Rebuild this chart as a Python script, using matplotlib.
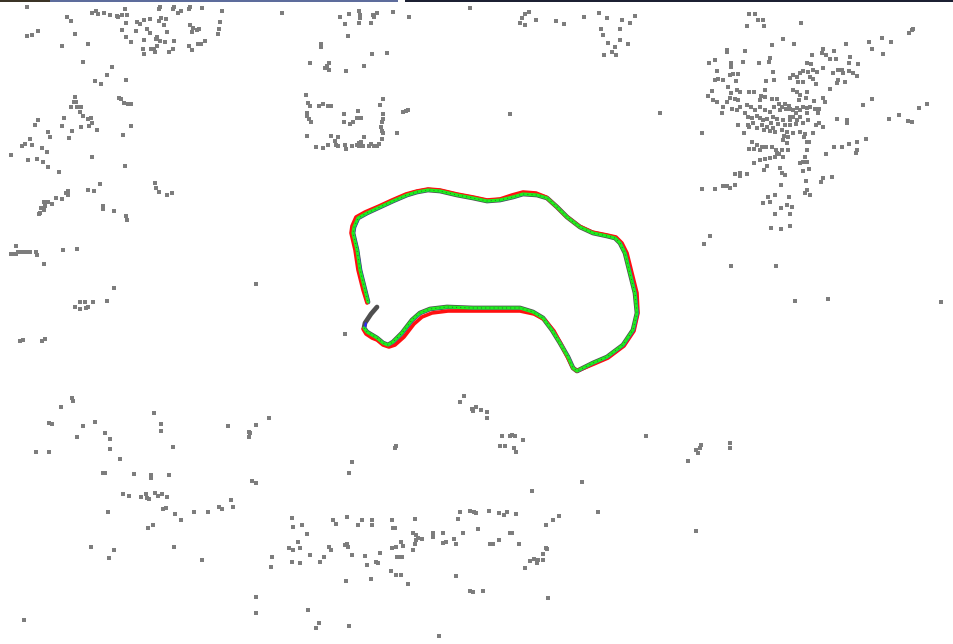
import numpy as np
import matplotlib
matplotlib.use("Agg")
import matplotlib.pyplot as plt
from matplotlib.patches import Rectangle

# Map landmarks (pixel-frame map coordinates, y grows downward)
cloud_nw = [
    (27, 7), (67, 17), (71, 21), (92, 13), (96, 11), (98, 14), (104, 13), (110, 15), (117, 16), (118, 17),
    (122, 15), (127, 15), (125, 9), (126, 23), (122, 30), (126, 37), (131, 42), (137, 22), (140, 24), (144, 20),
    (150, 19), (147, 29), (136, 31), (150, 33), (159, 9), (160, 7), (173, 9), (174, 7), (178, 13), (181, 11),
    (189, 9), (190, 7), (202, 8), (222, 11), (159, 21), (161, 18), (166, 19), (164, 25), (167, 32), (144, 40),
    (156, 39), (157, 37), (160, 41), (165, 42), (174, 41), (143, 49), (151, 49), (154, 49), (155, 52), (157, 46),
    (144, 54), (169, 52), (173, 49), (190, 25), (193, 28), (192, 32), (197, 30), (199, 29), (189, 46), (192, 50),
    (198, 44), (201, 44), (205, 41), (220, 22), (219, 29), (218, 34), (27, 36), (32, 35), (38, 31), (75, 34),
    (62, 46), (88, 44), (83, 62), (112, 67), (107, 75), (95, 81), (101, 84), (126, 80), (119, 98), (121, 99),
    (124, 103), (128, 104), (131, 104), (75, 97), (74, 102), (76, 102), (71, 107), (77, 107), (81, 107), (80, 112),
    (83, 116), (88, 119), (91, 118), (92, 123), (89, 126), (81, 127), (97, 130), (72, 131), (69, 138), (64, 118),
    (62, 126), (131, 126), (123, 135), (38, 120), (35, 125), (48, 132), (50, 137), (30, 139), (25, 144), (22, 146),
    (32, 145), (42, 148), (47, 152), (11, 155), (28, 160), (37, 159), (43, 162), (48, 167), (92, 157), (125, 166),
]
cloud_w = [
    (59, 172), (100, 184), (88, 190), (94, 191), (155, 183), (156, 188), (159, 192), (167, 195), (172, 193),
    (68, 191), (66, 193), (68, 195), (62, 199), (56, 198), (52, 204), (44, 202), (48, 202), (45, 206), (41, 208),
    (44, 210), (40, 213), (39, 214), (103, 206), (103, 209), (114, 211), (126, 216), (127, 220), (16, 246),
    (11, 254), (13, 254), (16, 254), (18, 252), (22, 252), (26, 252), (30, 252), (36, 252), (37, 255), (44, 264),
    (63, 250), (77, 249), (256, 284), (114, 288), (107, 301), (93, 302), (85, 302), (80, 302), (75, 307),
    (80, 309), (86, 308), (88, 307), (20, 341), (23, 340), (42, 341), (45, 339), (345, 334),
]
cloud_n = [
    (282, 13), (340, 17), (349, 14), (345, 24), (359, 11), (360, 15), (360, 18), (359, 23), (373, 15), (374, 17),
    (377, 13), (371, 23), (393, 12), (409, 17), (348, 36), (321, 44), (321, 47), (372, 54), (387, 53), (310, 63),
    (329, 63), (325, 68), (327, 66), (329, 70), (346, 71), (364, 66), (306, 95), (308, 103), (310, 106), (319, 106),
    (323, 104), (328, 106), (331, 106), (383, 99), (380, 105), (358, 111), (344, 114), (357, 118), (361, 118),
    (344, 122), (350, 124), (353, 122), (307, 113), (307, 116), (309, 119), (311, 122), (383, 114), (383, 119),
    (382, 122), (381, 127), (382, 131), (383, 133), (397, 133), (403, 112), (406, 111), (408, 110), (307, 136),
    (316, 147), (323, 148), (328, 145), (331, 136), (335, 141), (338, 137), (336, 145), (338, 146), (345, 145),
    (346, 149), (352, 146), (357, 145), (359, 143), (361, 142), (359, 146), (363, 146), (364, 137), (369, 146),
    (371, 144), (374, 146), (377, 146), (379, 144), (382, 139), (470, 8), (510, 114),
    (520, 23), (522, 18), (525, 14), (529, 12), (525, 25), (536, 20), (556, 21), (564, 24), (584, 17), (599, 13),
    (607, 18), (622, 20), (630, 23), (635, 16), (601, 29), (620, 29), (603, 35), (608, 43), (615, 47), (612, 52),
    (620, 40), (628, 44), (604, 55), (616, 55),
]
cloud_ne = [
    (749, 14), (755, 14), (758, 20), (763, 20), (747, 26), (764, 26), (801, 23), (913, 29), (772, 45), (783, 39),
    (794, 44), (846, 44), (869, 42), (872, 49), (882, 38), (891, 42), (883, 54), (909, 33), (912, 30), (727, 50),
    (727, 52), (745, 51), (709, 63), (715, 60), (731, 63), (731, 67), (743, 62), (759, 63), (770, 58), (769, 62),
    (823, 49), (822, 53), (826, 55), (834, 51), (830, 59), (836, 59), (812, 55), (807, 63), (811, 64), (850, 57),
    (849, 63), (858, 64), (717, 71), (715, 80), (718, 79), (723, 80), (730, 75), (733, 74), (738, 74), (736, 81),
    (773, 72), (766, 81), (774, 80), (790, 78), (793, 75), (797, 77), (800, 73), (803, 71), (808, 72), (813, 70),
    (817, 72), (823, 68), (798, 82), (803, 82), (810, 77), (813, 79), (816, 84), (833, 73), (838, 70), (842, 70),
    (843, 73), (838, 80), (837, 83), (845, 82), (849, 71), (853, 73), (857, 76), (708, 96), (712, 91), (713, 100),
    (717, 102), (723, 107), (722, 113), (727, 102), (730, 98), (728, 87), (731, 93), (737, 90), (740, 92),
    (735, 99), (738, 100), (732, 109), (737, 110), (740, 107), (749, 92), (754, 92), (761, 96), (760, 100),
    (765, 97), (765, 90), (772, 99), (777, 99), (779, 104), (782, 107), (785, 104), (789, 106), (793, 90),
    (797, 92), (800, 95), (799, 100), (806, 98), (807, 92), (814, 101), (823, 98), (825, 102), (830, 89),
    (747, 105), (751, 107), (755, 110), (760, 107), (765, 110), (770, 112), (774, 107), (780, 110), (786, 109),
    (790, 109), (793, 110), (797, 108), (800, 110), (803, 107), (807, 108), (810, 107), (815, 109), (819, 109),
    (818, 113), (807, 113), (796, 113), (790, 117), (793, 117), (800, 117), (797, 120), (790, 120), (745, 113),
    (748, 117), (752, 118), (757, 116), (760, 118), (763, 120), (767, 119), (773, 117), (777, 119), (783, 120),
    (771, 123), (778, 124), (785, 125), (748, 125), (753, 123), (757, 128), (762, 125), (767, 127), (773, 128),
    (738, 125), (744, 133), (749, 127), (790, 125), (796, 124), (803, 123), (808, 120), (816, 125), (819, 123),
    (823, 127), (837, 119), (847, 120), (847, 123), (863, 105), (872, 99), (889, 119), (899, 115), (908, 121),
    (912, 122), (919, 108), (927, 104), (764, 130), (770, 131), (775, 132), (782, 130), (787, 132), (784, 136),
    (788, 137), (783, 140), (787, 143), (793, 133), (800, 132), (804, 137), (807, 142), (805, 134), (813, 133),
    (752, 142), (757, 145), (754, 149), (749, 149), (760, 150), (762, 147), (766, 147), (772, 147), (776, 150),
    (777, 153), (779, 154), (782, 150), (788, 150), (775, 157), (770, 158), (783, 157), (765, 159), (754, 163),
    (760, 160), (800, 163), (803, 162), (807, 162), (805, 157), (807, 150), (809, 142), (767, 166), (764, 170),
    (780, 168), (782, 173), (785, 175), (803, 171), (809, 169), (735, 174), (740, 173), (740, 176), (747, 174),
    (702, 189), (715, 189), (723, 186), (727, 186), (730, 188), (735, 185), (781, 185), (806, 181), (821, 182),
    (823, 178), (832, 177), (826, 154), (834, 147), (842, 147), (849, 144), (857, 142), (857, 150), (856, 153),
    (866, 139), (702, 133), (660, 113), (768, 197), (770, 202), (775, 195), (763, 203), (789, 197), (787, 205),
    (792, 207), (781, 208), (807, 190), (805, 193), (810, 195), (775, 214), (790, 214), (771, 228), (781, 229),
    (790, 226), (704, 244), (710, 236), (731, 266), (776, 266), (795, 301), (828, 299), (941, 302),
]
cloud_sw = [
    (72, 398), (73, 401), (61, 407), (49, 423), (52, 424), (36, 452), (49, 452), (83, 426), (77, 437), (95, 422),
    (105, 433), (110, 439), (110, 449), (120, 459), (154, 413), (161, 424), (161, 431), (173, 447), (103, 473),
    (105, 473), (134, 474), (151, 475), (151, 478), (169, 475), (123, 494), (129, 496), (141, 497), (146, 494),
    (147, 498), (149, 499), (155, 493), (158, 496), (162, 494), (167, 497), (163, 509), (166, 508), (108, 512),
    (175, 514), (181, 520), (194, 512), (208, 512), (219, 507), (222, 509), (233, 507), (231, 500), (148, 528),
    (153, 525), (228, 426), (249, 432), (249, 437), (256, 425), (269, 418), (252, 481), (256, 483), (91, 547),
    (114, 550), (109, 558), (174, 547), (202, 560), (256, 597), (256, 613), (24, 620), (250, 433),
]
cloud_s = [
    (396, 446), (395, 448), (352, 462), (349, 473), (460, 402), (464, 396), (472, 409), (473, 411), (476, 407),
    (481, 410), (487, 412), (487, 418), (502, 436), (510, 436), (512, 435), (515, 436), (523, 440), (500, 446),
    (505, 446), (514, 448), (516, 452), (532, 491), (292, 518), (293, 527), (302, 525), (307, 534), (298, 542),
    (289, 548), (293, 550), (300, 548), (310, 555), (272, 557), (271, 567), (292, 562), (300, 563), (320, 562),
    (324, 557), (333, 520), (336, 524), (347, 517), (358, 525), (362, 520), (372, 520), (372, 525), (329, 547),
    (331, 550), (345, 545), (347, 544), (348, 547), (352, 555), (365, 556), (367, 565), (376, 562), (378, 563),
    (380, 553), (371, 579), (346, 581), (392, 520), (393, 528), (395, 528), (392, 548), (396, 547), (401, 542),
    (403, 546), (397, 557), (400, 557), (402, 557), (391, 571), (396, 575), (401, 575), (408, 584), (415, 519),
    (413, 533), (416, 535), (418, 538), (422, 539), (416, 540), (415, 544), (413, 550), (433, 533), (433, 537),
    (443, 533), (443, 543), (446, 542), (454, 539), (456, 544), (463, 533), (456, 576), (460, 512), (458, 519),
    (470, 511), (474, 512), (476, 513), (478, 529), (489, 511), (499, 513), (504, 515), (507, 512), (516, 514),
    (510, 533), (512, 533), (490, 544), (493, 544), (499, 540), (519, 544), (546, 525), (546, 548), (547, 549),
    (543, 554), (543, 560), (538, 560), (534, 559), (537, 563), (530, 561), (525, 568), (470, 591), (473, 592),
    (483, 591), (548, 598), (308, 610), (319, 623), (316, 628), (349, 626), (439, 636), (646, 436), (688, 461),
    (696, 450), (698, 453), (700, 448), (701, 445), (730, 443), (730, 448), (582, 482), (598, 512), (559, 516),
    (553, 520), (696, 531),
]

# Estimated trajectory (green) and reference trajectory (red)
est_x = [377, 371, 365, 364, 367, 372, 377, 383, 388, 393, 402, 412, 420, 430, 447, 473, 500, 520, 533, 543,
         552, 560, 568, 573, 577, 593, 607, 623, 633, 637, 635, 630, 625, 620, 615, 607, 593, 580, 567, 557,
         547, 537, 523, 513, 500, 487, 473, 457, 440, 428, 417, 407, 393, 380, 367, 358, 354, 353, 357, 360,
         365, 368]
est_y = [307, 314, 323, 328, 332, 335, 338, 343, 345, 342, 333, 320, 313, 309, 307, 308, 308, 308, 312, 318,
         330, 343, 357, 368, 371, 363, 357, 345, 330, 313, 293, 273, 253, 243, 238, 236, 233, 227, 217, 207,
         198, 195, 194, 197, 200, 201, 198, 195, 191, 190, 192, 195, 201, 207, 213, 218, 227, 233, 250, 270,
         290, 302]
ref_x = [376, 370, 364, 363, 366, 372, 377, 383, 389, 395, 404, 414, 422, 432, 448, 473, 500, 520, 534, 545,
         554, 561, 568, 573, 577, 594, 608, 624, 634, 638, 637, 632, 627, 622, 616, 607, 592, 579, 566, 556,
         546, 536, 523, 512, 500, 487, 473, 457, 440, 428, 417, 406, 392, 379, 365, 356, 352, 351, 355, 358,
         363, 367]
ref_y = [307, 314, 323, 329, 334, 338, 340, 345, 347, 345, 337, 324, 317, 313, 311, 311, 311, 311, 314, 320,
         331, 344, 358, 368, 371, 364, 358, 346, 331, 313, 293, 273, 253, 243, 237, 235, 232, 226, 216, 206,
         197, 193, 192, 195, 199, 200, 197, 194, 190, 189, 191, 194, 200, 206, 212, 217, 226, 233, 250, 270,
         290, 303]

W, H = 954, 644
fig = plt.figure(figsize=(W / 100, H / 100), dpi=100)
ax = fig.add_axes([0, 0, 1, 1])
ax.set_xlim(0, W)
ax.set_ylim(H, 0)
ax.axis("off")
fig.patch.set_facecolor("white")

# window title strip along the top edge
ax.add_patch(Rectangle((0, 0), 50, 2, color="#3b3426", lw=0, zorder=5))
ax.add_patch(Rectangle((50, 0), 348, 2, color="#5d6c9c", lw=0, zorder=5))
ax.add_patch(Rectangle((405, 0), 549, 2, color="#1c2033", lw=0, zorder=5))

for cloud in (cloud_nw, cloud_w, cloud_n, cloud_ne, cloud_sw, cloud_s):
    pts = np.array(cloud, dtype=float)
    ax.scatter(pts[:, 0], pts[:, 1], s=5.5, marker="s", c="#7d7d7d", linewidths=0, zorder=2)

kw = dict(solid_capstyle="round", solid_joinstyle="round")
start = 2  # the first metres are only covered by the keyframe track
ax.plot(est_x, est_y, color="#3c3c3c", lw=3.4, alpha=0.9, zorder=3, **kw)
ax.plot(ref_x[start + 1:], ref_y[start + 1:], color="#ff1010", lw=2.6, zorder=4, **kw)
ax.plot(np.array(est_x[start:]) + 0.8, np.array(est_y[start:]) + 0.3, color="#2a2aff", lw=1.6, zorder=4, **kw)
ax.plot(est_x[start + 1:], est_y[start + 1:], color="#1cf01c", lw=2.3, zorder=5, **kw)
ax.plot(est_x[start + 1:], est_y[start + 1:], color="#3a3a3a", lw=0.6, ls=(0, (1, 4)), zorder=6)

fig.savefig("out.png", dpi=100)
